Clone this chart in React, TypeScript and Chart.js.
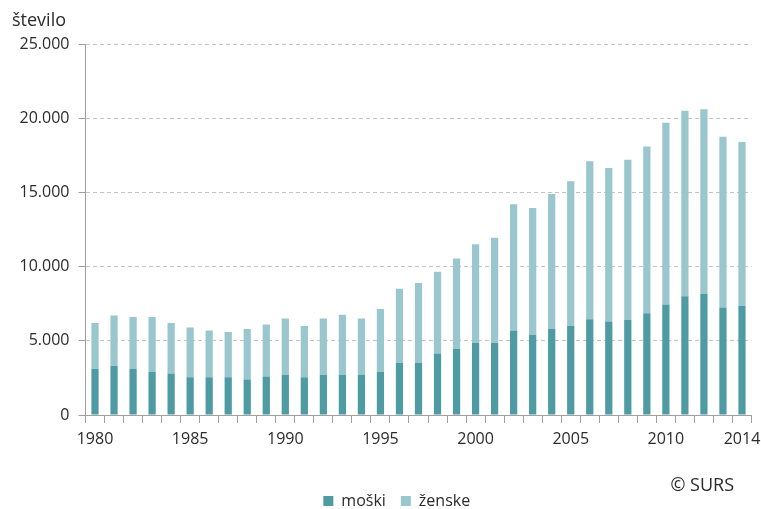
import React, { useEffect, useRef } from "react";
import { Chart, registerables } from "chart.js";

Chart.register(...registerables);

const years: string[] = [
  "1980", "1981", "1982", "1983", "1984", "1985", "1986", "1987", "1988", "1989",
  "1990", "1991", "1992", "1993", "1994", "1995", "1996", "1997", "1998", "1999",
  "2000", "2001", "2002", "2003", "2004", "2005", "2006", "2007", "2008", "2009",
  "2010", "2011", "2012", "2013", "2014",
];

const moski: number[] = [
  3100, 3300, 3100, 2900, 2800, 2550, 2550, 2550, 2400, 2600,
  2700, 2550, 2700, 2700, 2700, 2900, 3500, 3500, 4150, 4450,
  4850, 4850, 5700, 5400, 5800, 6000, 6450, 6300, 6400, 6850,
  7450, 8000, 8150, 7250, 7350,
];

const zenske: number[] = [
  3100, 3400, 3500, 3700, 3400, 3350, 3150, 3050, 3400, 3500,
  3800, 3450, 3800, 4050, 3800, 4250, 5000, 5400, 5500, 6100,
  6650, 7100, 8500, 8550, 9100, 9750, 10650, 10350, 10800, 11250,
  12250, 12500, 12450, 11500, 11050,
];

const xTickLabels: string[] = ["1980", "1985", "1990", "1995", "2000", "2005", "2010", "2014"];
const yTicks: number[] = [0, 5000, 10000, 15000, 20000, 25000];

const seriesNames = ["moški", "ženske"];
const titleText = "število";
const sourceText = "© SURS";

const FONT = "'Open Sans', 'Noto Sans', sans-serif";
const TEXT = "#2b2b2b";
const AXIS = "#a0a0a0";
const GRID = "#c4c4c4";

function fmt(v: number): string {
  return String(Math.round(v)).replace(/\B(?=(\d{3})+(?!\d))/g, ".");
}

const textPlugin = {
  id: "extraText",
  afterLayout(chart: any) {
    // nudge the centred legend to the right, as in the reference
    if (chart.legend) {
      chart.legend.left += 16;
      chart.legend.right += 16;
    }
  },
  afterDraw(chart: any) {
    const ctx = chart.ctx as CanvasRenderingContext2D;
    ctx.save();
    ctx.fillStyle = TEXT;
    ctx.textBaseline = "alphabetic";
    ctx.textAlign = "left";
    ctx.font = `18px ${FONT}`;
    ctx.fillText(titleText, 12, 26);
    ctx.textAlign = "right";
    ctx.font = `18px ${FONT}`;
    ctx.fillText(sourceText, 734, 491);
    ctx.restore();
  },
};

export default function App() {
  const ref = useRef<HTMLCanvasElement | null>(null);

  useEffect(() => {
    if (!ref.current) return;
    const chart = new Chart(ref.current, {
      type: "bar",
      data: {
        labels: years,
        datasets: [
          {
            label: seriesNames[0],
            data: moski,
            backgroundColor: "#4e9ba3",
            categoryPercentage: 1,
            barPercentage: 0.38,
          },
          {
            label: seriesNames[1],
            data: zenske,
            backgroundColor: "#99c7cd",
            categoryPercentage: 1,
            barPercentage: 0.38,
          },
        ],
      },
      options: {
        animation: false,
        responsive: false,
        devicePixelRatio: 1,
        layout: { padding: { left: 10, right: 9.5, top: 44, bottom: -10 } },
        plugins: {
          legend: {
            position: "bottom",
            labels: {
              boxWidth: 10,
              boxHeight: 10,
              padding: 15,
              color: TEXT,
              font: { family: FONT, size: 16 },
            },
          },
          tooltip: { enabled: false },
          title: { display: false },
        },
        scales: {
          x: {
            stacked: true,
            grid: {
              display: true,
              drawOnChartArea: false,
              offset: true,
              color: AXIS,
              tickLength: 8,
            },
            border: { display: true, color: AXIS, width: 1 },
            ticks: {
              autoSkip: false,
              maxRotation: 0,
              minRotation: 0,
              padding: 7,
              color: TEXT,
              font: { family: FONT, size: 16 },
              callback: function (this: any, value: any, index: number) {
                const lab = years[index];
                return xTickLabels.includes(lab) ? lab : "";
              },
            },
            afterFit: (s: any) => {
              s.height = 63;
              s.paddingLeft = 0;
              s.paddingRight = 0;
            },
          },
          y: {
            stacked: true,
            min: yTicks[0],
            max: yTicks[yTicks.length - 1],
            afterBuildTicks: (s: any) => {
              s.ticks = yTicks.map((v) => ({ value: v }));
            },
            grid: {
              color: GRID,
              tickColor: AXIS,
              tickLength: 7,
              lineWidth: 1,
            },
            border: { display: true, color: AXIS, width: 1, dash: [4, 3] },
            ticks: {
              padding: 9,
              color: TEXT,
              font: { family: FONT, size: 16 },
              callback: (v: any) => fmt(Number(v)),
            },
            afterFit: (s: any) => {
              s.width = 75.5;
              s.paddingTop = 0;
              s.paddingBottom = 0;
            },
          },
        },
      },
      plugins: [textPlugin],
    });
    return () => chart.destroy();
  }, []);

  return (
    <div style={{ position: "fixed", left: 0, top: 0, width: 761, height: 509, background: "#fff" }}>
      <canvas ref={ref} width={761} height={509} style={{ display: "block" }} />
    </div>
  );
}
